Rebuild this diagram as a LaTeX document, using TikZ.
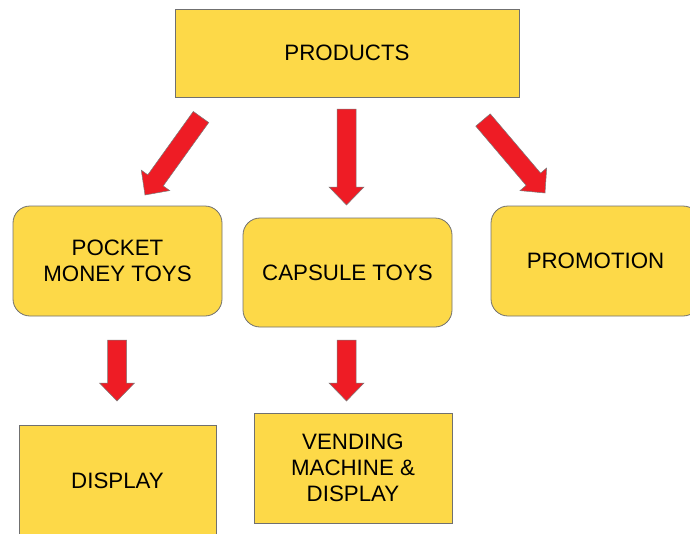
\documentclass[tikz,border=0pt]{standalone}
\usepackage{fontspec}
\setmainfont{Liberation Sans}
\usetikzlibrary{calc}

\definecolor{boxfill}{HTML}{FDD948}
\definecolor{boxedge}{HTML}{707070}
\definecolor{arrowred}{HTML}{EE1C25}
\definecolor{arrowedge}{HTML}{7A7A7A}

% Block arrow from a tail coordinate (#1) to a tip coordinate (#2)
\newcommand{\blockarrow}[2]{%
  \coordinate (ba-h) at ($(#2)!18pt!(#1)$);
  \filldraw[arrowstyle]
    ($(#1)!9.5pt!90:(#2)$) -- ($(ba-h)!9.5pt!90:(#2)$) -- ($(ba-h)!17.5pt!90:(#2)$) -- (#2)
    -- ($(ba-h)!17.5pt!-90:(#2)$) -- ($(ba-h)!9.5pt!-90:(#2)$) -- ($(#1)!9.5pt!-90:(#2)$) -- cycle;
}

\begin{document}
\begin{tikzpicture}[x=1pt, y=-1pt,
  box/.style={draw=boxedge, line width=0.8pt, fill=boxfill, align=center,
    font=\fontsize{22.3}{26}\selectfont, inner sep=0pt},
  roundbox/.style={box, rounded corners=17pt},
  arrowstyle/.style={fill=arrowred, draw=arrowedge, line width=0.5pt, line join=miter}]
  \useasboundingbox (0,0) rectangle (690,533);
  \clip (0,0) rectangle (690,533);

  % boxes
  \node[box, minimum width=344pt, minimum height=88pt] (products) at (347,53) {PRODUCTS};
  \node[roundbox, minimum width=209pt, minimum height=110pt] (pocket) at (117.5,261) {POCKET\\MONEY TOYS};
  \node[roundbox, minimum width=209pt, minimum height=109pt] (capsule) at (347.5,272.5) {CAPSULE TOYS};
  \node[roundbox, minimum width=209pt, minimum height=110pt] (promotion) at (595.5,261) {PROMOTION};
  \node[box, minimum width=197pt, minimum height=112pt] (display) at (117.5,481) {DISPLAY};
  \node[box, minimum width=198pt, minimum height=110pt] (vending) at (353,468) {VENDING\\MACHINE \&\\DISPLAY};

  % arrow ends
  \coordinate (a1t) at (201,117);   \coordinate (a1h) at (145,195);
  \coordinate (a2t) at (346.5,109); \coordinate (a2h) at (346.5,205);
  \coordinate (a3t) at (483,120);   \coordinate (a3h) at (545,193);
  \coordinate (a4t) at (117,340);   \coordinate (a4h) at (117,401);
  \coordinate (a5t) at (346.5,340); \coordinate (a5h) at (346.5,401);

  \blockarrow{a1t}{a1h}
  \blockarrow{a2t}{a2h}
  \blockarrow{a3t}{a3h}
  \blockarrow{a4t}{a4h}
  \blockarrow{a5t}{a5h}
\end{tikzpicture}
\end{document}
